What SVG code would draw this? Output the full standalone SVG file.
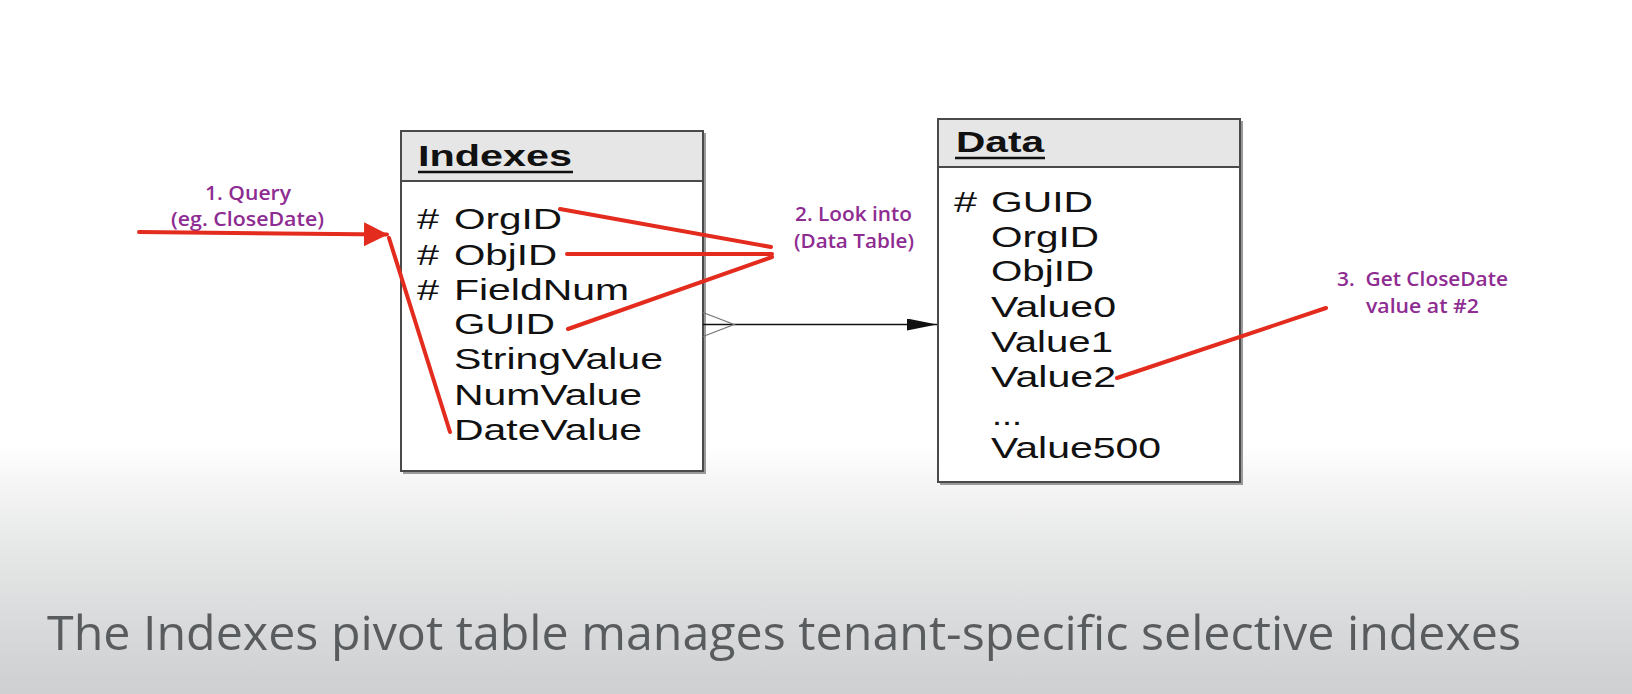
<svg xmlns="http://www.w3.org/2000/svg" width="1632" height="694" viewBox="0 0 1632 694">
<defs>
<linearGradient id="bg" x1="0" y1="0" x2="0" y2="694" gradientUnits="userSpaceOnUse">
<stop offset="0" stop-color="#ffffff"/>
<stop offset="0.64" stop-color="#ffffff"/>
<stop offset="0.70" stop-color="#f5f5f5"/>
<stop offset="0.80" stop-color="#e5e6e6"/>
<stop offset="0.90" stop-color="#d9dadb"/>
<stop offset="1" stop-color="#cdcfd0"/>
</linearGradient>
<marker id="blackArrow" viewBox="0 0 30 12" refX="30" refY="6" markerWidth="30" markerHeight="12" markerUnits="userSpaceOnUse" orient="auto">
<path d="M0,0 L30,6 L0,12 Z" fill="#111"/>
</marker>
<marker id="redArrow" viewBox="0 0 24 24" refX="23" refY="12" markerWidth="24" markerHeight="24" markerUnits="userSpaceOnUse" orient="auto">
<path d="M0,0 L24,12 L0,24 Z" fill="#e32b1e"/>
</marker>
</defs>
<style>
.box{fill:#ffffff;stroke:#4a4a4a;stroke-width:2}
.shadow{fill:none;stroke:#9a9a9a;stroke-width:2}
.head{fill:#e6e6e6;stroke:#4a4a4a;stroke-width:2}
.title{font-family:"Liberation Sans",Arial,sans-serif;font-weight:bold;font-size:29px;fill:#111}
.row{font-family:"Liberation Sans",Arial,sans-serif;font-size:30px;fill:#111}
.ul{stroke:#111;stroke-width:2.5}
.red{stroke:#e32b1e;stroke-width:4;fill:none;stroke-linecap:round}
.lbl{font-family:"Open Sans","Liberation Sans",sans-serif;font-weight:600;font-size:20px;fill:#8e2c92}
.cap{font-family:"Open Sans","Liberation Sans",sans-serif;font-size:48px;fill:#595c5e}
</style>
<rect x="0" y="0" width="1632" height="694" fill="url(#bg)"/>

<g id="indexes">
<path class="shadow" d="M403,473 L705,473 L705,133"/>
<rect class="box" x="401" y="131" width="302" height="340"/>
<rect class="head" x="401" y="131" width="302" height="50"/>
<text class="title" x="418" y="166" textLength="154" lengthAdjust="spacingAndGlyphs">Indexes</text>
<line class="ul" x1="418" y1="172" x2="573" y2="172"/>
<text class="row" x="417" y="229" textLength="22" lengthAdjust="spacingAndGlyphs">#</text>
<text class="row" x="454" y="229" textLength="108" lengthAdjust="spacingAndGlyphs">OrgID</text>
<text class="row" x="417" y="265" textLength="22" lengthAdjust="spacingAndGlyphs">#</text>
<text class="row" x="454" y="265" textLength="103" lengthAdjust="spacingAndGlyphs">ObjID</text>
<text class="row" x="417" y="300" textLength="22" lengthAdjust="spacingAndGlyphs">#</text>
<text class="row" x="454" y="300" textLength="175" lengthAdjust="spacingAndGlyphs">FieldNum</text>
<text class="row" x="454" y="334" textLength="101" lengthAdjust="spacingAndGlyphs">GUID</text>
<text class="row" x="454" y="369" textLength="209" lengthAdjust="spacingAndGlyphs">StringValue</text>
<text class="row" x="454" y="405" textLength="188" lengthAdjust="spacingAndGlyphs">NumValue</text>
<text class="row" x="454" y="440" textLength="188" lengthAdjust="spacingAndGlyphs">DateValue</text>
</g>

<g id="data">
<path class="shadow" d="M940,484 L1242,484 L1242,121"/>
<rect class="box" x="938" y="119" width="302" height="363"/>
<rect class="head" x="938" y="119" width="302" height="48"/>
<text class="title" x="956" y="152" textLength="88" lengthAdjust="spacingAndGlyphs">Data</text>
<line class="ul" x1="955" y1="158" x2="1045" y2="158"/>
<text class="row" x="954" y="212" textLength="23" lengthAdjust="spacingAndGlyphs">#</text>
<text class="row" x="991" y="212" textLength="102" lengthAdjust="spacingAndGlyphs">GUID</text>
<text class="row" x="991" y="247" textLength="108" lengthAdjust="spacingAndGlyphs">OrgID</text>
<text class="row" x="991" y="281" textLength="103" lengthAdjust="spacingAndGlyphs">ObjID</text>
<text class="row" x="991" y="317" textLength="125" lengthAdjust="spacingAndGlyphs">Value0</text>
<text class="row" x="991" y="352" textLength="122" lengthAdjust="spacingAndGlyphs">Value1</text>
<text class="row" x="991" y="387" textLength="125" lengthAdjust="spacingAndGlyphs">Value2</text>
<text class="row" x="992" y="425" textLength="30" lengthAdjust="spacingAndGlyphs">...</text>
<text class="row" x="991" y="458" textLength="170" lengthAdjust="spacingAndGlyphs">Value500</text>
</g>

<g id="label-query">
<text class="lbl" x="205" y="200" textLength="86" lengthAdjust="spacingAndGlyphs">1. Query</text>
<text class="lbl" x="171" y="226" textLength="153" lengthAdjust="spacingAndGlyphs">(eg. CloseDate)</text>
</g>
<g id="label-lookinto">
<text class="lbl" x="795" y="221" textLength="117" lengthAdjust="spacingAndGlyphs">2. Look into</text>
<text class="lbl" x="794" y="248" textLength="120" lengthAdjust="spacingAndGlyphs">(Data Table)</text>
</g>
<g id="label-get">
<text class="lbl" x="1337" y="286" textLength="171" lengthAdjust="spacingAndGlyphs" xml:space="preserve">3.  Get CloseDate</text>
<text class="lbl" x="1366" y="313" textLength="113" lengthAdjust="spacingAndGlyphs">value at #2</text>
</g>

<g id="connectors">
<line x1="703" y1="324.5" x2="937" y2="324.5" stroke="#111" stroke-width="1.6" marker-end="url(#blackArrow)"/>
<path d="M703,312.5 L734,324.5 L703,336.5" fill="none" stroke="#777" stroke-width="1.3"/>
<line class="red" x1="139" y1="232" x2="387" y2="234.5" marker-end="url(#redArrow)"/>
<line class="red" x1="389" y1="238" x2="450" y2="432"/>
<line class="red" x1="560" y1="209" x2="771" y2="247"/>
<line class="red" x1="567" y1="254" x2="772" y2="254"/>
<line class="red" x1="568" y1="329" x2="772" y2="257"/>
<line class="red" x1="1117" y1="378" x2="1326" y2="308"/>
</g>

<text class="cap" x="47" y="650" textLength="1474" lengthAdjust="spacingAndGlyphs">The Indexes pivot table manages tenant-specific selective indexes</text>
</svg>
